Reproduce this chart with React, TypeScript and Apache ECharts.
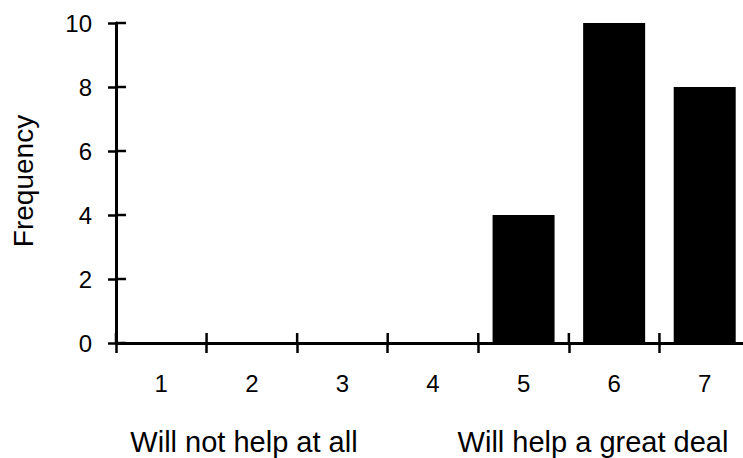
import React, { useEffect, useRef } from "react";
import * as echarts from "echarts";

const categories = ["1", "2", "3", "4", "5", "6", "7"];
const frequency = [0, 0, 0, 0, 4, 10, 8];
const yMin = 0;
const yMax = 10;
const yStep = 2;
const yTickValues = [0, 2, 4, 6, 8, 10];
const yAxisTitle = "Frequency";
const lowEndLabel = "Will not help at all";
const highEndLabel = "Will help a great deal";

const FONT = "'Liberation Sans', Arial, Helvetica, sans-serif";

export default function App() {
  const ref = useRef<HTMLDivElement>(null);

  useEffect(() => {
    if (!ref.current) return;
    const chart = echarts.init(ref.current, undefined, { renderer: "svg" });
    const lineStyle = { color: "#000", width: 3 };
    const tickStyle = { color: "#000", width: 2.5 };
    const innerTick = 10;

    chart.setOption({
      animation: false,
      backgroundColor: "#fff",
      grid: { left: 116, right: 0, top: 23, bottom: 115, containLabel: false },
      xAxis: {
        type: "category",
        data: categories,
        position: "bottom",
        boundaryGap: true,
        axisLine: { show: true, lineStyle },
        axisTick: { show: true, length: 10, lineStyle: tickStyle },
        axisLabel: {
          show: true,
          color: "#000",
          fontFamily: FONT,
          fontSize: 24,
          margin: 28,
        },
        splitLine: { show: false },
      },
      yAxis: {
        type: "value",
        min: yMin,
        max: yMax,
        interval: yStep,
        position: "left",
        axisLine: { show: true, lineStyle },
        axisTick: { show: true, length: 8, lineStyle: tickStyle },
        axisLabel: {
          show: true,
          color: "#000",
          fontFamily: FONT,
          fontSize: 24,
          margin: 24,
        },
        splitLine: { show: false },
      },
      series: [
        {
          type: "bar",
          data: frequency,
          barWidth: 62,
          itemStyle: { color: "#000" },
          silent: true,
        },
        {
          // inner half of the crossing y-axis ticks
          type: "custom",
          silent: true,
          data: yTickValues.map((v) => [0, v]),
          encode: { x: 0, y: 1 },
          renderItem: (params: any, api: any) => {
            const p = api.coord([api.value(0), api.value(1)]);
            const bw = api.size([1, 0])[0];
            const x = p[0] - bw / 2;
            return {
              type: "line",
              shape: { x1: x, y1: p[1], x2: x + innerTick, y2: p[1] },
              style: { stroke: "#000", lineWidth: 2.5 },
            };
          },
        },
        {
          // inner half of the crossing x-axis ticks (category boundaries)
          type: "custom",
          silent: true,
          data: categories.map((c, i) => [i, 0]),
          encode: { x: 0, y: 1 },
          renderItem: (params: any, api: any) => {
            const p = api.coord([api.value(0), api.value(1)]);
            const bw = api.size([1, 0])[0];
            const x = p[0] - bw / 2;
            return {
              type: "line",
              shape: { x1: x, y1: p[1], x2: x, y2: p[1] - innerTick },
              style: { stroke: "#000", lineWidth: 2.5 },
            };
          },
        },
      ],
      graphic: [
        {
          type: "text",
          x: 23,
          y: 181,
          rotation: Math.PI / 2,
          style: {
            text: yAxisTitle,
            fill: "#000",
            font: `28px ${FONT}`,
            align: "center",
            verticalAlign: "middle",
          },
        },
        {
          type: "text",
          x: 244,
          y: 442,
          style: {
            text: lowEndLabel,
            fill: "#000",
            font: `29px ${FONT}`,
            align: "center",
            verticalAlign: "middle",
          },
        },
        {
          type: "text",
          x: 593,
          y: 442,
          style: {
            text: highEndLabel,
            fill: "#000",
            font: `29px ${FONT}`,
            align: "center",
            verticalAlign: "middle",
          },
        },
      ],
    });

    return () => chart.dispose();
  }, []);

  return (
    <div
      style={{
        position: "absolute",
        left: 0,
        top: 0,
        width: 743,
        height: 458,
        overflow: "hidden",
        background: "#fff",
      }}
    >
      <div ref={ref} style={{ width: 750, height: 458 }} />
    </div>
  );
}
